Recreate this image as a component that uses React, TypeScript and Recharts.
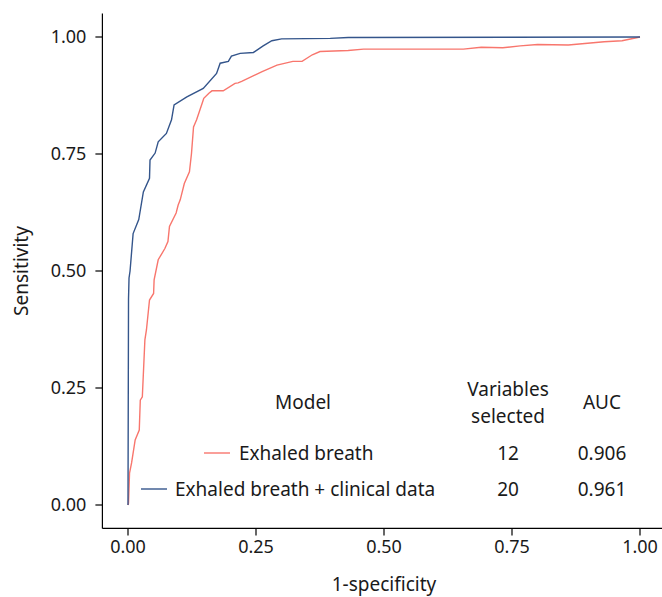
import { LineChart, Line, XAxis, YAxis } from 'recharts'

// ROC points: [1-specificity, sensitivity]
const breathFpr = [0, 0.001, 0.003, 0.007, 0.014, 0.022, 0.024, 0.028, 0.033, 0.036, 0.042, 0.05, 0.051, 0.059, 0.072, 0.078, 0.081, 0.094, 0.098, 0.102, 0.11, 0.12, 0.124, 0.128, 0.134, 0.146, 0.148, 0.158, 0.164, 0.174, 0.186, 0.209, 0.215, 0.222, 0.262, 0.291, 0.322, 0.34, 0.36, 0.375, 0.43, 0.46, 0.52, 0.655, 0.69, 0.732, 0.766, 0.8, 0.86, 0.93, 0.965, 1]
const breathTpr = [0, 0.004, 0.068, 0.09, 0.139, 0.16, 0.224, 0.231, 0.353, 0.374, 0.438, 0.452, 0.481, 0.524, 0.548, 0.563, 0.595, 0.624, 0.641, 0.652, 0.687, 0.712, 0.751, 0.808, 0.823, 0.862, 0.869, 0.88, 0.885, 0.885, 0.885, 0.901, 0.902, 0.905, 0.926, 0.94, 0.948, 0.948, 0.962, 0.969, 0.971, 0.974, 0.974, 0.974, 0.978, 0.977, 0.981, 0.984, 0.983, 0.99, 0.992, 1]

const clinicalFpr = [0, 0.001, 0.002, 0.004, 0.01, 0.021, 0.03, 0.042, 0.043, 0.053, 0.059, 0.075, 0.085, 0.09, 0.115, 0.147, 0.173, 0.18, 0.196, 0.202, 0.219, 0.245, 0.264, 0.281, 0.3, 0.395, 0.43, 1]
const clinicalTpr = [0, 0.44, 0.485, 0.5, 0.58, 0.61, 0.669, 0.698, 0.737, 0.752, 0.776, 0.794, 0.823, 0.855, 0.872, 0.89, 0.922, 0.944, 0.948, 0.959, 0.965, 0.967, 0.981, 0.992, 0.996, 0.997, 0.999, 1]

const xTicks = [0, 0.25, 0.5, 0.75, 1]
const yTicks = [0, 0.25, 0.5, 0.75, 1]

const models = ['Exhaled breath', 'Exhaled breath + clinical data']
const varsSelected = ['12', '20']
const aucs = ['0.906', '0.961']
const colors = ['#f8766d', '#34558b']

const breath = breathFpr.map((x, i) => ({ fpr: x, tpr: breathTpr[i] }))
const clinical = clinicalFpr.map((x, i) => ({ fpr: x, tpr: clinicalTpr[i] }))

const font = '"Noto Sans", sans-serif'
const txt = '#1a1a1a'
const fmt = (v: number) => v.toFixed(2)

export default function App() {
  return (
    <div style={{ position: 'absolute', left: 0, top: 0, width: 662, height: 597, overflow: 'hidden', background: '#fff', fontFamily: font }}>
      <LineChart width={670} height={597} margin={{ top: 13.6, right: 4.4, bottom: 0, left: 0 }}>
        <XAxis type="number" dataKey="fpr" domain={[-0.05, 1.05]} ticks={xTicks} tickFormatter={fmt}
          allowDataOverflow height={68.6} tickSize={7} tickMargin={5}
          axisLine={{ stroke: '#000', strokeWidth: 1.2 }} tickLine={{ stroke: '#000', strokeWidth: 1.2 }}
          tick={{ fill: txt, fontSize: 18, fontFamily: font }} />
        <YAxis type="number" dataKey="tpr" domain={[-0.05, 1.05]} ticks={yTicks} tickFormatter={fmt}
          allowDataOverflow width={102.4} tickSize={7} tickMargin={9}
          axisLine={{ stroke: '#000', strokeWidth: 1.2 }} tickLine={{ stroke: '#000', strokeWidth: 1.2 }}
          tick={{ fill: txt, fontSize: 18, fontFamily: font }} />
        <Line data={breath} dataKey="tpr" type="linear" stroke={colors[0]} strokeWidth={1.4} dot={false} isAnimationActive={false} />
        <Line data={clinical} dataKey="tpr" type="linear" stroke={colors[1]} strokeWidth={1.4} dot={false} isAnimationActive={false} />
      </LineChart>
      <svg width={662} height={597} style={{ position: 'absolute', left: 0, top: 0, pointerEvents: 'none' }}
        fontFamily={font} fontSize={19} fill={txt}>
        <text x={384} y={591} textAnchor="middle">1-specificity</text>
        <text transform="translate(28,271) rotate(-90)" textAnchor="middle">Sensitivity</text>
        <text x={303} y={409} textAnchor="middle">Model</text>
        <text x={508} y={396} textAnchor="middle">Variables</text>
        <text x={508} y={423} textAnchor="middle">selected</text>
        <text x={602} y={409} textAnchor="middle">AUC</text>
        <line x1={204} x2={230} y1={453} y2={453} stroke={colors[0]} strokeWidth={1.4} />
        <text x={239} y={460}>{models[0]}</text>
        <text x={508} y={460} textAnchor="middle">{varsSelected[0]}</text>
        <text x={602} y={460} textAnchor="middle">{aucs[0]}</text>
        <line x1={141} x2={167} y1={489} y2={489} stroke={colors[1]} strokeWidth={1.4} />
        <text x={175} y={496}>{models[1]}</text>
        <text x={508} y={496} textAnchor="middle">{varsSelected[1]}</text>
        <text x={602} y={496} textAnchor="middle">{aucs[1]}</text>
      </svg>
    </div>
  )
}
